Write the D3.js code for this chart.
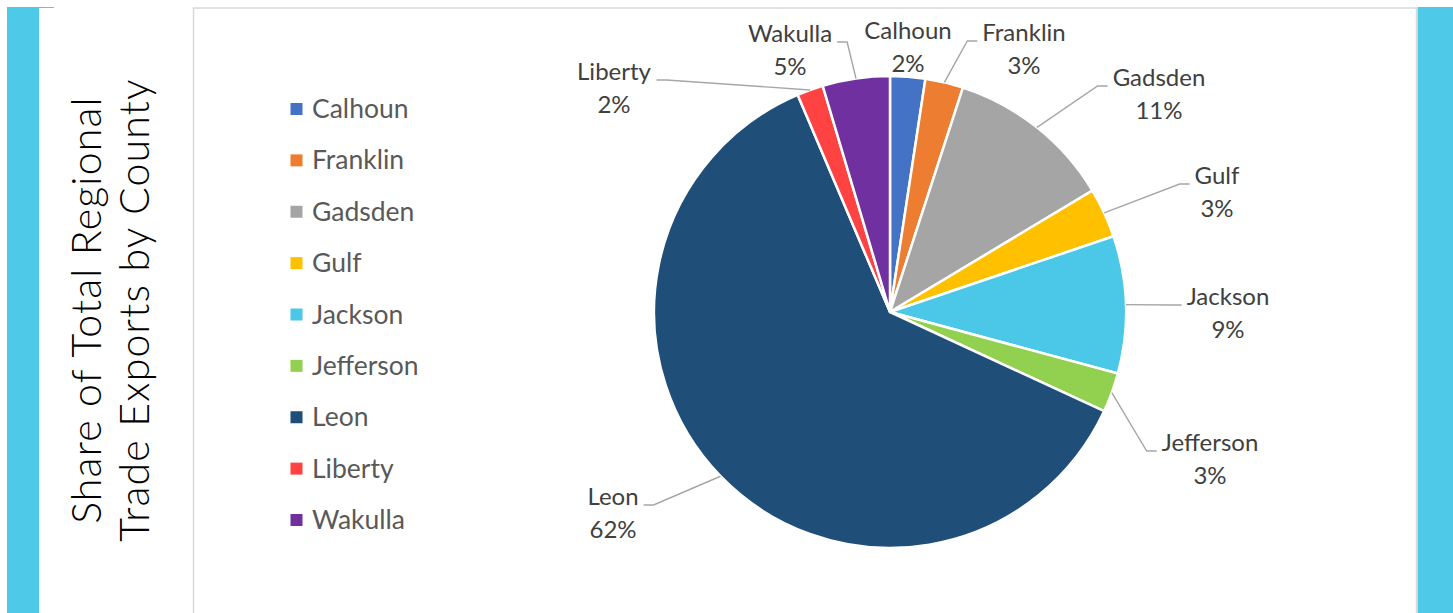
<!DOCTYPE html>
<html>
<head>
<meta charset="utf-8">
<script src="https://cdn.jsdelivr.net/npm/d3@7"></script>
<style>
  html, body { margin: 0; padding: 0; background: #ffffff; }
  svg { display: block; }
</style>
</head>
<body>
<svg id="chart" width="1453" height="613"></svg>
<script>
// County shares of total regional trade exports (percent)
const counties = ["Calhoun", "Franklin", "Gadsden", "Gulf", "Jackson", "Jefferson", "Leon", "Liberty", "Wakulla"];
const shares   = [2.4, 2.6, 11.4, 3.4, 9.4, 2.7, 61.7, 1.8, 4.6];
const colors   = ["#4472C4", "#ED7D31", "#A5A5A5", "#FFC000", "#4BC8E8", "#92D050", "#1F4E79", "#FF4242", "#7030A0"];
const titleLines = ["Share of Total Regional", "Trade Exports by County"];

// Data label placement relative to the pie centre: [dx, dy of the first line, leader side]
const labelLayout = {
  Calhoun:   [18, -281, null],
  Franklin:  [134, -279, "right"],
  Gadsden:   [269, -234, "right"],
  Gulf:      [327, -136, "right"],
  Jackson:   [338, -15, "right"],
  Jefferson: [320, 131, "right"],
  Leon:      [-277, 185, "left"],
  Liberty:   [-276, -240, "left"],
  Wakulla:   [-100, -278, "left"]
};

const svg = d3.select("#chart");
const W = 1453, H = 613;

// Frame: cyan side bands and the light grey chart border
svg.append("rect").attr("x", 7).attr("y", 7).attr("width", 32).attr("height", H - 7).attr("fill", "#4FC9E8");
svg.append("rect").attr("x", 39).attr("y", 7).attr("width", 15).attr("height", 1).attr("fill", "#4FC9E8");
svg.append("rect").attr("x", 1417.5).attr("y", 7).attr("width", W - 1417.5).attr("height", H - 7).attr("fill", "#4FC9E8");
svg.append("path")
  .attr("d", `M193.5,${H + 2} V8 H1416.5 V${H + 2}`)
  .attr("fill", "none").attr("stroke", "#D9D9D9").attr("stroke-width", 1.5);

// Vertical title
const title = svg.append("g").attr("font-family", "Lato, 'DejaVu Sans', sans-serif")
  .attr("font-weight", 300).attr("font-size", 41).attr("letter-spacing", 1.2).attr("fill", "#000");
[101, 149].forEach((bx, i) => {
  title.append("text")
    .attr("transform", `translate(${bx},310) rotate(-90)`)
    .attr("text-anchor", "middle")
    .text(titleLines[i]);
});

// Legend
const legend = svg.append("g").attr("font-family", "Lato, Calibri, sans-serif").attr("font-size", 26.5).attr("fill", "#595959");
const legendY = d3.scalePoint().domain(counties).range([109, 520]);
counties.forEach((c, i) => {
  const y = legendY(c);
  legend.append("rect").attr("x", 290.5).attr("y", y - 6).attr("width", 12).attr("height", 12).attr("fill", colors[i]);
  legend.append("text").attr("x", 312).attr("y", y + 9).text(c);
});

// Pie
const cx = 890, cy = 312, R = 236;
const total = d3.sum(shares);
const data = counties.map((c, i) => ({ name: c, value: shares[i], color: colors[i] }));
const pie = d3.pie().value(d => d.value).sort(null);
const arcs = pie(data);
const arc = d3.arc().innerRadius(0).outerRadius(R);

const g = svg.append("g").attr("transform", `translate(${cx},${cy})`);
g.selectAll("path.slice").data(arcs).join("path")
  .attr("class", "slice")
  .attr("d", arc)
  .attr("fill", d => d.data.color)
  .attr("stroke", "#ffffff").attr("stroke-width", 2.5).attr("stroke-linejoin", "round");

// Data labels with leader lines
const pct = d3.format(".0%");
const labels = g.append("g").attr("font-family", "Lato, Calibri, sans-serif").attr("font-size", 24).attr("fill", "#404040");
const leaders = g.append("g").attr("fill", "none").attr("stroke", "#A6A6A6").attr("stroke-width", 1.4);

arcs.forEach(a => {
  const [lx, ly, side] = labelLayout[a.data.name];
  const t = labels.append("text").attr("text-anchor", "middle");
  t.append("tspan").attr("x", lx).attr("y", ly + 8).text(a.data.name);
  t.append("tspan").attr("x", lx).attr("y", ly + 41).text(pct(a.data.value / total));
  if (!side) return;
  const box = t.node().getBBox();
  const mid = (a.startAngle + a.endAngle) / 2;
  const px = R * Math.sin(mid), py = -R * Math.cos(mid);
  const yy = ly + 8;
  const edge = side === "right" ? box.x - 5 : box.x + box.width + 5;
  const elbow = side === "right" ? edge - 10 : edge + 10;
  leaders.append("path").attr("d", `M${px},${py} L${elbow},${yy} L${edge},${yy}`);
});
</script>
</body>
</html>
